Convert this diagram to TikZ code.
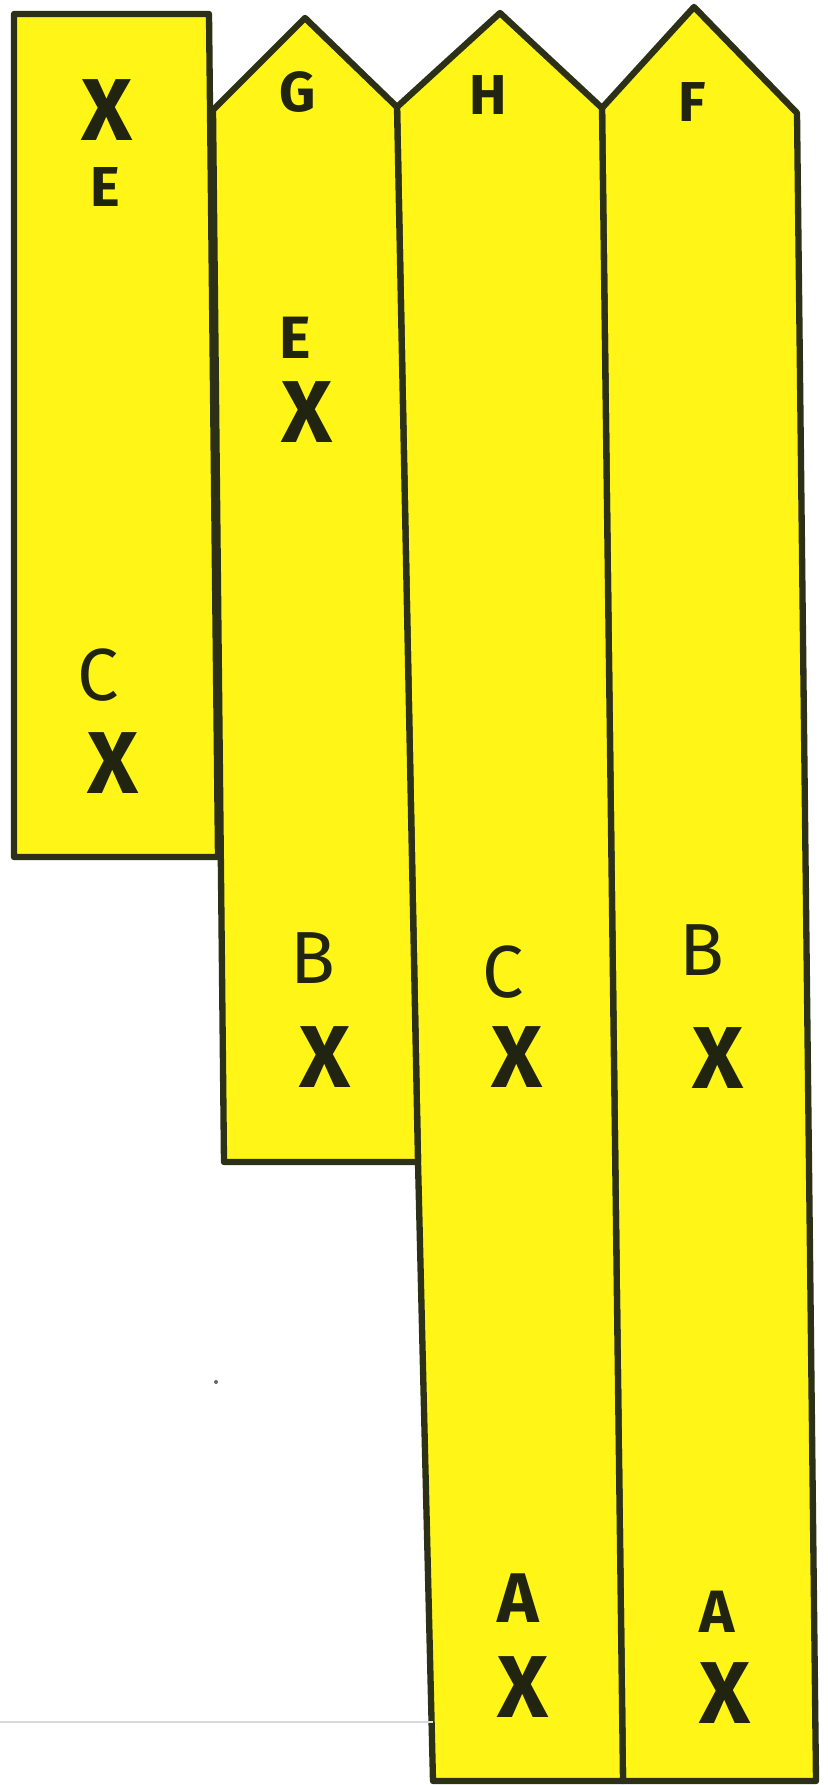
\documentclass[tikz,border=0pt]{standalone}
\usepackage{fontspec}
\setmainfont{Fira Sans}
\definecolor{stripfill}{RGB}{255,246,24}
\definecolor{stripline}{RGB}{44,48,22}
\definecolor{ink}{RGB}{32,36,16}
\begin{document}
\begin{tikzpicture}[x=0.1mm, y=-0.1mm,
    strip/.style={draw=stripline, line width=1.8pt, line join=round, fill=stripfill},
    cross/.style={font=\fontsize{25}{25}\selectfont\bfseries, text=ink, inner sep=0pt},
    letter/.style={font=\fontsize{20}{20}\selectfont\bfseries, text=ink, inner sep=0pt},
    thinletter/.style={font=\fontsize{21}{21}\selectfont, text=ink, inner sep=0pt},
    header/.style={font=\fontsize{16}{16}\selectfont\bfseries, text=ink, inner sep=0pt}
]
    \useasboundingbox[fill=white] (0,0) rectangle (828,1785);

    % strips
    \draw[strip] (602,108) -- (694,7) -- (797,113) -- (816,1781) -- (623,1781) -- cycle;
    \draw[strip] (397,107) -- (500,13) -- (602,108) -- (623,1781) -- (433,1781) -- (418,1162) -- cycle;
    \draw[strip] (213,110) -- (305,18) -- (397,107) -- (418,1162) -- (224,1162) -- cycle;
    \draw[strip] (14,14) -- (209,14) -- (218,857) -- (14,857) -- cycle;

    % scan marks
    \draw[black!15, line width=0.4pt] (0,1722) -- (433,1722);
    \fill[black!60] (216,1382) circle (2);

    % left strip
    \node[cross] (lx1) at (107,110) {X};
    \node[letter, font=\fontsize{16}{16}\selectfont\bfseries] (le) at (105,187) {E};
    \node[thinletter] (lc) at (98,675) {C};
    \node[cross] (lx2) at (113,763) {X};

    % strip G
    \node[header] (gname) at (298,92) {G};
    \node[letter, font=\fontsize{17}{17}\selectfont\bfseries] (ge) at (295,338) {E};
    \node[cross] (gx1) at (307,412) {X};
    \node[thinletter] (gb) at (313,958) {B};
    \node[cross] (gx2) at (325,1057) {X};

    % strip H
    \node[header] (hname) at (488,95) {H};
    \node[thinletter] (hc) at (503,972) {C};
    \node[cross] (hx1) at (517,1057) {X};
    \node[letter] (ha) at (518,1598) {A};
    \node[cross] (hx2) at (523,1687) {X};

    % strip F
    \node[header] (fname) at (692,102) {F};
    \node[thinletter] (fb) at (702,950) {B};
    \node[cross] (fx1) at (718,1058) {X};
    \node[letter, font=\fontsize{17}{17}\selectfont\bfseries] (fa) at (717,1612) {A};
    \node[cross] (fx2) at (725,1693) {X};
\end{tikzpicture}
\end{document}
